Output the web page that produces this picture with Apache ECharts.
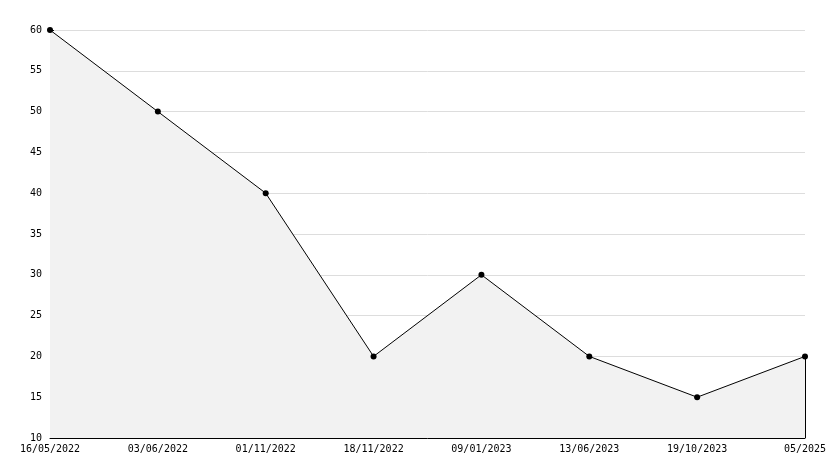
<!DOCTYPE html>
<html>
<head>
<meta charset="utf-8">
<script src="https://cdn.jsdelivr.net/npm/echarts@6/dist/echarts.min.js"></script>
<style>html,body{margin:0;padding:0;background:#fff}#c{width:834px;height:468px}</style>
</head>
<body>
<div id="c"></div>
<script>
const categories = ['16/05/2022','03/06/2022','01/11/2022','18/11/2022','09/01/2023','13/06/2023','19/10/2023','05/2025'];
const values = [60, 50, 40, 20, 30, 20, 15, 20];
const yMin = 10, yMax = 60, yStep = 5;

const chart = echarts.init(document.getElementById('c'), null, {renderer: 'canvas'});
const font = 'DejaVu Sans Mono';
chart.setOption({
  animation: false,
  backgroundColor: '#ffffff',
  grid: {left: 50, right: 29, top: 30, bottom: 30, containLabel: false},
  xAxis: {
    type: 'category',
    data: categories,
    boundaryGap: false,
    axisLine: {lineStyle: {color: '#000', width: 1}},
    axisTick: {inside: true, length: 5, lineStyle: {color: '#000'}},
    axisLabel: {color: '#000', fontFamily: font, fontSize: 10, margin: 6, interval: 0},
    splitLine: {show: false}
  },
  yAxis: {
    type: 'value',
    min: yMin, max: yMax, interval: yStep,
    axisLine: {show: true, lineStyle: {color: '#000', width: 1}},
    axisTick: {show: true, inside: true, length: 4, lineStyle: {color: '#000'}},
    minorTick: {show: true, splitNumber: 5, length: 4, lineStyle: {color: '#000'}},
    axisLabel: {color: '#000', fontFamily: font, fontSize: 10, margin: 8},
    splitLine: {show: true, lineStyle: {color: '#dddddd', width: 1}}
  },
  series: [{
    type: 'line',
    data: values,
    symbol: 'circle',
    symbolSize: 6,
    itemStyle: {color: '#000'},
    lineStyle: {color: '#000', width: 1},
    areaStyle: {color: '#f2f2f2', opacity: 1, origin: 'start'},
    markLine: {
      silent: true,
      symbol: ['none', 'none'],
      label: {show: false},
      lineStyle: {color: '#000', width: 1, type: 'solid'},
      data: [[{coord: [categories.length - 1, yMin]}, {coord: [categories.length - 1, values[values.length - 1]]}]]
    }
  }]
});
</script>
</body>
</html>
